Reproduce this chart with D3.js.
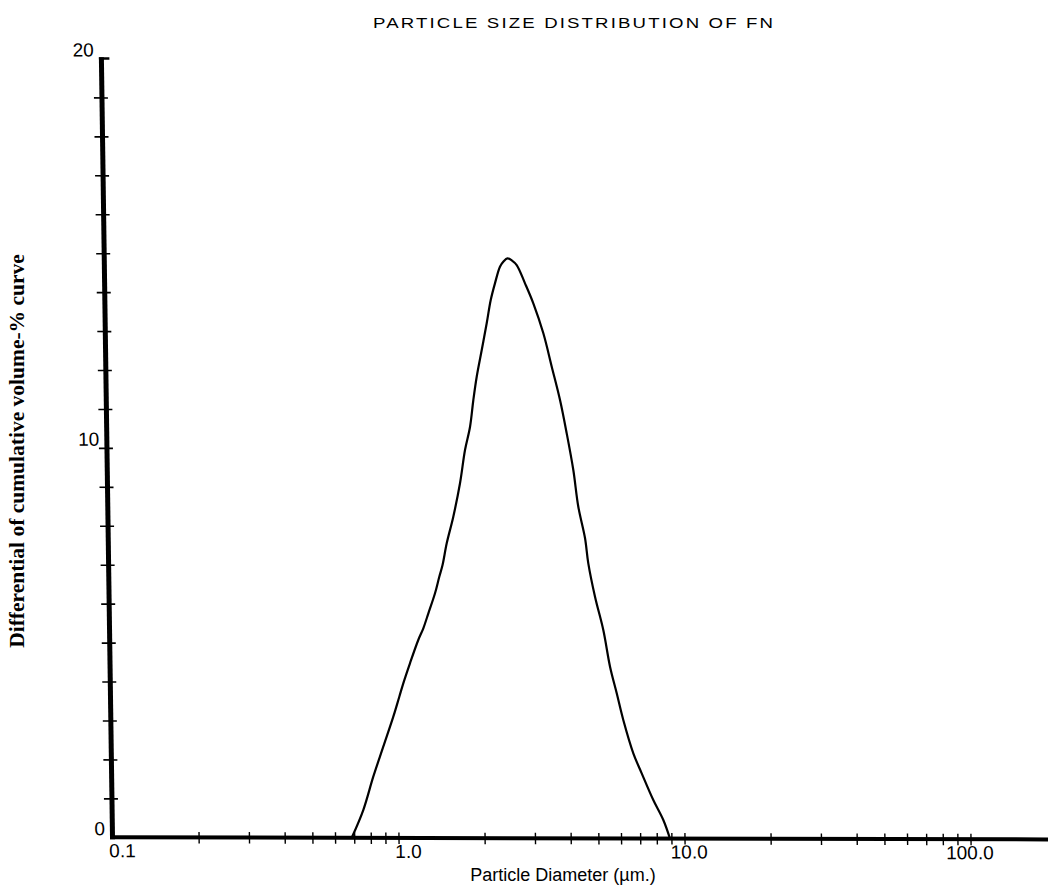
<!DOCTYPE html>
<html>
<head>
<meta charset="utf-8">
<script src="https://cdn.jsdelivr.net/npm/d3@7"></script>
<style>
  html, body { margin: 0; padding: 0; background: #fff; }
  svg { display: block; }
</style>
</head>
<body>
<script>
// Particle diameter (µm) and differential volume-% values along the curve
const diameters = [0.686, 0.7555, 0.822, 0.894, 0.9725, 1.023, 1.058, 1.119, 1.1995, 1.251,
  1.305, 1.380, 1.431, 1.471, 1.525, 1.613, 1.709, 1.786, 1.865, 1.921,
  1.979, 2.067, 2.158, 2.235, 2.317, 2.417, 2.488, 2.570, 2.665, 2.766,
  2.951, 3.148, 3.401, 3.625, 3.860, 4.058, 4.262, 4.418, 4.646, 4.757,
  5.002, 5.327, 5.600, 5.892, 6.193, 6.688, 7.139, 7.813, 8.450, 8.898];
const volumePct = [0, 0.715, 1.571, 2.342, 3.113, 3.627, 3.972, 4.486, 5.084, 5.385,
  5.771, 6.285, 6.711, 7.012, 7.568, 8.253, 9.111, 9.966, 10.565, 11.251,
  11.85, 12.535, 13.221, 13.82, 14.249, 14.676, 14.81, 14.892, 14.835, 14.72,
  14.251, 13.738, 12.968, 12.111, 11.256, 10.401, 9.459, 8.517, 7.713, 7.064,
  6.207, 5.352, 4.41, 3.727, 3.042, 2.187, 1.674, 0.989, 0.476, 0];

// Axis ticks and labels
const yTickValues = [1, 2, 3, 4, 5, 6, 7, 8, 9, 10, 11, 12, 13, 14, 15, 16, 17, 18, 19];
const yLabelValues = [0, 10, 20];
const yLabelText = ["0", "10", "20"];
const xDecades = [0.1, 1, 10];
const xMultiples = [2, 3, 4, 5, 6, 7, 8, 9];
const xMajorTicks = [1, 10, 100];
const xLabelValues = [0.1, 1, 10, 100];
const xLabelText = ["0.1", "1.0", "10.0", "100.0"];

const titleText = "PARTICLE SIZE DISTRIBUTION OF FN";
const xTitleText = "Particle Diameter (\u00B5m.)";
const yTitleText = "Differential of cumulative volume-% curve";

const W = 1048, H = 888;
const x0 = 112.5, y0 = 837.3;

const x = d3.scaleLog().domain([0.1, 1000]).range([x0, x0 + 4 * 286]);
const y = d3.scaleLinear().domain([0, 20]).range([y0, 58.5]);

const svg = d3.select("body").append("svg")
  .attr("width", W).attr("height", H)
  .attr("viewBox", `0 0 ${W} ${H}`);

// The plotted frame leans slightly: the value axis tilts and the diameter axis drops to the right
const kx = 0.01425, ky = 0.00225;
const plot = svg.append("g")
  .attr("transform", `matrix(1, ${ky}, ${kx}, 1, ${-kx * y0}, ${-ky * x0})`);

const sans = "'Liberation Sans', Arial, Helvetica, sans-serif";
const serif = "'Liberation Serif', 'Times New Roman', Times, serif";

// Y axis
const yAxis = d3.axisLeft(y).tickValues(yTickValues).tickSize(8).tickFormat("");
const gy = plot.append("g").attr("transform", `translate(${x0},0)`).call(yAxis);
gy.select(".domain").remove();
gy.selectAll(".tick line").attr("x1", 6).attr("stroke", "#000").attr("stroke-width", 1.6);
plot.append("line")
  .attr("x1", x0).attr("x2", x0).attr("y1", y(20) - 1.3).attr("y2", y0 + 2)
  .attr("stroke", "#000").attr("stroke-width", 5);
// cap at the top of the value axis
plot.append("line")
  .attr("x1", x0 - 2.5).attr("x2", x0 + 8).attr("y1", y(20)).attr("y2", y(20))
  .attr("stroke", "#000").attr("stroke-width", 2.7);

plot.append("g").selectAll("text")
  .data(yLabelValues)
  .join("text")
  .attr("x", x0 - 7.5)
  .attr("y", d => y(d) - 2)
  .attr("text-anchor", "end")
  .attr("font-family", sans)
  .attr("font-size", 19)
  .attr("fill", "#000")
  .text((d, i) => yLabelText[i]);

// X axis
const xTickValues = xDecades.flatMap(d => xMultiples.map(m => m * d)).concat(xMajorTicks);
const xAxis = d3.axisBottom(x).tickValues(xTickValues).tickSize(6).tickFormat("");
const gx = plot.append("g").attr("transform", `translate(0,${y0})`).call(xAxis);
gx.select(".domain").remove();
gx.selectAll(".tick line").attr("y1", -5.5).attr("stroke", "#000").attr("stroke-width", 1.4);
plot.append("line")
  .attr("x1", x0 - 2.5).attr("x2", W + 20).attr("y1", y0).attr("y2", y0)
  .attr("stroke", "#000").attr("stroke-width", 4);

plot.append("g").selectAll("text")
  .data(xLabelValues)
  .join("text")
  .attr("x", d => x(d) + 23)
  .attr("y", y0 + 20)
  .attr("text-anchor", "end")
  .attr("font-family", sans)
  .attr("font-size", 19)
  .attr("fill", "#000")
  .text((d, i) => xLabelText[i]);

// Distribution curve
const points = diameters.map((d, i) => [d, volumePct[i]]);
const line = d3.line()
  .x(d => x(d[0]))
  .y(d => y(d[1]))
  .curve(d3.curveCatmullRom.alpha(0.5));
plot.append("path")
  .datum(points)
  .attr("d", line)
  .attr("fill", "none")
  .attr("stroke", "#000")
  .attr("stroke-width", 2.2)
  .attr("stroke-linejoin", "round");

// Titles (the heading uses a broad sans face, approximated by widening the glyphs)
const titleScale = 1.2;
svg.append("text")
  .attr("transform", `translate(373,28) scale(${titleScale},1)`)
  .attr("font-family", sans)
  .attr("font-size", 15.5)
  .attr("textLength", 400 / titleScale)
  .attr("lengthAdjust", "spacing")
  .attr("fill", "#000")
  .text(titleText);

svg.append("text")
  .attr("x", 563).attr("y", 881)
  .attr("text-anchor", "middle")
  .attr("font-family", sans)
  .attr("font-size", 18)
  .attr("fill", "#000")
  .text(xTitleText);

svg.append("text")
  .attr("transform", "translate(24,451) rotate(-90)")
  .attr("text-anchor", "middle")
  .attr("font-family", serif)
  .attr("font-weight", "bold")
  .attr("font-size", 21.5)
  .attr("fill", "#000")
  .text(yTitleText);
</script>
</body>
</html>
